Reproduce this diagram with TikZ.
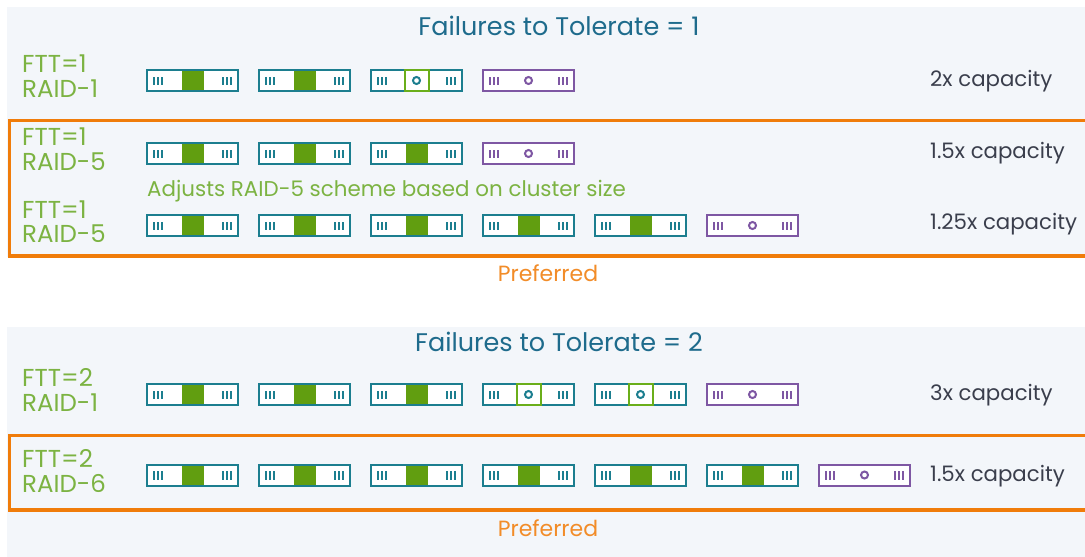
\documentclass[tikz,border=0pt]{standalone}
\usepackage{fontspec}
\setmainfont{Poppins}
\usetikzlibrary{calc}
\definecolor{panelbg}{HTML}{F3F6FA}
\definecolor{diskteal}{HTML}{1C7E8F}
\definecolor{titleblue}{HTML}{1E6B8C}
\definecolor{diskgreen}{HTML}{619E10}
\definecolor{wgreen}{HTML}{6AAE1A}
\definecolor{lblgreen}{HTML}{7CB342}
\definecolor{hostpurple}{HTML}{7E57A3}
\definecolor{prefbox}{HTML}{F07C0A}
\definecolor{preftext}{HTML}{F28C28}
\definecolor{captext}{HTML}{3A3E4C}
\tikzset{
  diskbox/.style={rectangle, draw=#1, line width=2pt, fill=white,
    minimum width=91pt, minimum height=21pt, inner sep=0pt},
  lbl/.style={anchor=base west, inner sep=0pt, text=lblgreen, font=\fontsize{24.5}{26}\selectfont},
  captxt/.style={anchor=base west, inner sep=0pt, text=captext, font=\fontsize{21.3}{24}\selectfont},
  ttl/.style={anchor=base, inner sep=0pt, text=titleblue, font=\fontsize{25.5}{27}\selectfont},
  preflbl/.style={anchor=base, inner sep=0pt, text=preftext, font=\fontsize{22}{24}\selectfont},
  notetxt/.style={anchor=base west, inner sep=0pt, text=lblgreen, font=\fontsize{21.4}{24}\selectfont},
  prefframe/.style={draw=prefbox, line width=3.5pt},
}
\newcommand\rdTicks[2]{%
  \foreach \i in {0,1,2}{%
    \fill[#2] ($(#1.west)+(6.7+4*\i,-4)$) rectangle ++(2.5,8.5);
    \fill[#2] ($(#1.east)+(-6.7-4*\i,-4)$) rectangle ++(-2.5,8.5);
  }}
\newcommand\datadisk[3]{%
  \node[diskbox=diskteal] (#1) at (#2+46.5,#3) {};
  \fill[diskgreen] ($(#1.center)+(-11,-9.5)$) rectangle ($(#1.center)+(11,9.5)$);
  \rdTicks{#1}{diskteal}}
\newcommand\witdisk[3]{%
  \node[diskbox=diskteal] (#1) at (#2+46.5,#3) {};
  \draw[wgreen, line width=2pt] ($(#1.center)+(-12,-10.5)$) rectangle ($(#1.center)+(12,10.5)$);
  \draw[diskteal, line width=2pt] (#1.center) circle[radius=3.5];
  \rdTicks{#1}{diskteal}}
\newcommand\hostdisk[3]{%
  \node[diskbox=hostpurple] (#1) at (#2+46.5,#3) {};
  \draw[hostpurple, line width=2pt] (#1.center) circle[radius=3.5];
  \rdTicks{#1}{hostpurple}}
\begin{document}
\begin{tikzpicture}[x=1pt,y=-1pt]
\useasboundingbox (0,0) rectangle (1085,557);
\clip (0,0) rectangle (1085,557);
\fill[white] (0,0) rectangle (1085,557);
% panels
\fill[panelbg] (7,7) rectangle (1085,257);
\fill[panelbg] (7,327) rectangle (1085,557);
% titles
\node[ttl] (t1) at (559,35) {Failures to Tolerate = 1};
\node[ttl] (t2) at (559,351) {Failures to Tolerate = 2};
% row 1
\node[lbl] (r1a) at (22,72) {FTT=1};
\node[lbl] (r1b) at (22,97) {RAID-1};
\datadisk{d11}{146}{80.5}
\datadisk{d12}{258}{80.5}
\witdisk{d13}{370}{80.5}
\hostdisk{d14}{482}{80.5}
\node[captxt] (c1) at (930,86) {2x capacity};
% preferred box 1
\draw[prefframe] (9.5,120.5) rectangle (1100,256);
% row 2
\node[lbl] (r2a) at (22,145) {FTT=1};
\node[lbl] (r2b) at (22,170) {RAID-5};
\datadisk{d21}{146}{153.5}
\datadisk{d22}{258}{153.5}
\datadisk{d23}{370}{153.5}
\hostdisk{d24}{482}{153.5}
\node[captxt] (c2) at (930,158) {1.5x capacity};
\node[notetxt] (n1) at (147,196) {Adjusts RAID-5 scheme based on cluster size};
% row 3
\node[lbl] (r3a) at (22,218) {FTT=1};
\node[lbl] (r3b) at (22,242) {RAID-5};
\datadisk{d31}{146}{225.5}
\datadisk{d32}{258}{225.5}
\datadisk{d33}{370}{225.5}
\datadisk{d34}{482}{225.5}
\datadisk{d35}{594}{225.5}
\hostdisk{d36}{706}{225.5}
\node[captxt] (c3) at (930,229) {1.25x capacity};
\node[preflbl] (p1) at (548,281) {Preferred};
% row 4
\node[lbl] (r4a) at (22,386) {FTT=2};
\node[lbl] (r4b) at (22,411) {RAID-1};
\datadisk{d41}{146}{394.5}
\datadisk{d42}{258}{394.5}
\datadisk{d43}{370}{394.5}
\witdisk{d44}{482}{394.5}
\witdisk{d45}{594}{394.5}
\hostdisk{d46}{706}{394.5}
\node[captxt] (c4) at (930,400) {3x capacity};
% preferred box 2
\draw[prefframe] (9.5,435.5) rectangle (1100,510);
% row 5
\node[lbl] (r5a) at (22,467) {FTT=2};
\node[lbl] (r5b) at (22,492) {RAID-6};
\datadisk{d51}{146}{475}
\datadisk{d52}{258}{475}
\datadisk{d53}{370}{475}
\datadisk{d54}{482}{475}
\datadisk{d55}{594}{475}
\datadisk{d56}{706}{475}
\hostdisk{d57}{818}{475}
\node[captxt] (c5) at (930,481) {1.5x capacity};
\node[preflbl] (p2) at (548,536) {Preferred};
\end{tikzpicture}
\end{document}
